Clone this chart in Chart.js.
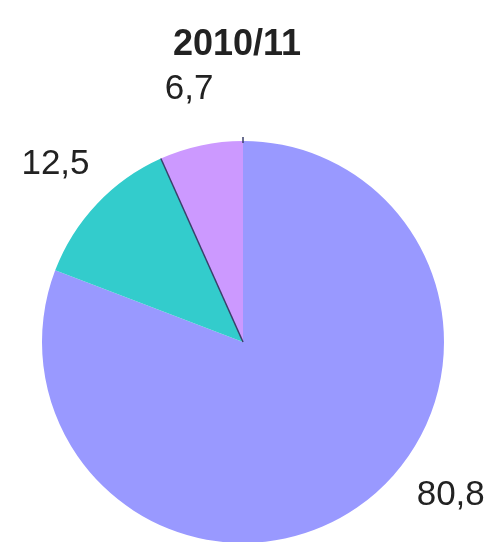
<!DOCTYPE html>
<html>
<head>
<meta charset="utf-8">
<script src="https://cdn.jsdelivr.net/npm/chart.js@4/dist/chart.umd.min.js"></script>
<style>
  html, body { margin: 0; padding: 0; background: #fff; overflow: hidden; }
  #wrap { width: 495px; height: 542px; overflow: hidden; }
</style>
</head>
<body>
<div id="wrap"><canvas id="chartCanvas" width="495" height="560"></canvas></div>
<script>
"use strict";

const title = "2010/11";
const categories = ["A", "B", "C"];
const values = [80.8, 12.5, 6.7];
const valueLabels = ["80,8", "12,5", "6,7"];
const colors = ["#9999ff", "#33cccc", "#cc99ff"];

// draws title, outside labels and the thin separator line
const decorations = {
  id: "decorations",
  afterDraw(chart) {
    const ctx = chart.ctx;
    const arcs = chart.getDatasetMeta(0).data;
    const cx = arcs[0].x;
    const cy = arcs[0].y;
    const r = arcs[0].outerRadius;

    ctx.save();
    // dark line on the start edge of the last slice
    const last = arcs[arcs.length - 1];
    ctx.strokeStyle = "#3a3f6a";
    ctx.lineWidth = 1.5;
    ctx.beginPath();
    ctx.moveTo(cx, cy);
    ctx.lineTo(cx + r * Math.cos(last.startAngle), cy + r * Math.sin(last.startAngle));
    ctx.stroke();
    ctx.beginPath();
    ctx.moveTo(cx + (r - 2) * Math.cos(last.endAngle), cy + (r - 2) * Math.sin(last.endAngle));
    ctx.lineTo(cx + (r + 4) * Math.cos(last.endAngle), cy + (r + 4) * Math.sin(last.endAngle));
    ctx.stroke();

    ctx.fillStyle = "#222";
    ctx.textAlign = "center";
    ctx.textBaseline = "middle";
    ctx.font = "bold 36px 'Liberation Sans', Arial, sans-serif";
    ctx.fillText(title, 237, 45);

    ctx.font = "35px 'Liberation Sans', Arial, sans-serif";
    const lr = r + 57;
    const maxY = 495;
    arcs.forEach((arc, i) => {
      const mid = (arc.startAngle + arc.endAngle) / 2;
      let dx = lr * Math.cos(mid);
      let dy = lr * Math.sin(mid);
      if (cy + dy > maxY) {
        dy = maxY - cy;
        dx = Math.sign(dx) * Math.sqrt(lr * lr - dy * dy);
      }
      ctx.fillText(valueLabels[i], cx + dx, cy + dy);
    });
    ctx.restore();
  },
};

const ctx = document.getElementById("chartCanvas").getContext("2d");
new Chart(ctx, {
  type: "pie",
  data: {
    labels: categories,
    datasets: [
      {
        data: values,
        backgroundColor: colors,
        borderWidth: 0,
      },
    ],
  },
  options: {
    responsive: false,
    animation: false,
    layout: { padding: { left: 42, right: 51, top: 141, bottom: 17 } },
    plugins: {
      legend: { display: false },
      tooltip: { enabled: false },
      title: { display: false },
    },
  },
  plugins: [decorations],
});
</script>
</body>
</html>
